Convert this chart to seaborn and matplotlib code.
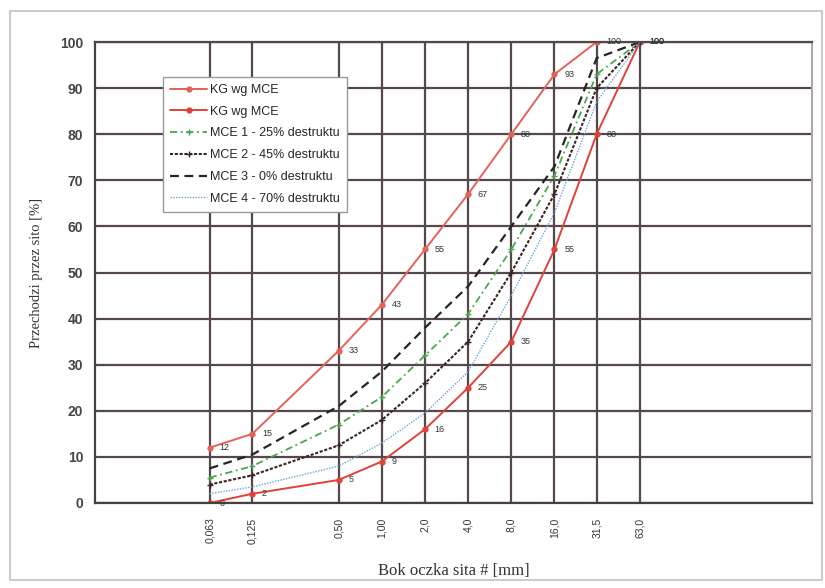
import matplotlib
matplotlib.use("Agg")
import matplotlib.pyplot as plt
import numpy as np
import pandas as pd
import seaborn as sns
from matplotlib.patches import Rectangle

sieves = [0.063, 0.125, 0.5, 1.0, 2.0, 4.0, 8.0, 16.0, 31.5, 63.0]
sieve_labels = ["0,063", "0,125", "0,50", "1,00", "2,0", "4,0", "8,0", "16,0", "31,5", "63,0"]

kg_upper = [12, 15, 33, 43, 55, 67, 80, 93, 100, 100]
kg_lower = [0, 2, 5, 9, 16, 25, 35, 55, 80, 100]
mce1 = [5.5, 8, 17, 23, 32, 41, 55, 71, 93, 100]
mce2 = [4, 6, 12.5, 18, 26, 35, 50, 67, 90, 100]
mce3 = [7.5, 10.5, 21, 28.5, 38, 47, 60, 73, 96.5, 100]
mce4 = [2, 3.5, 8, 13, 19.5, 28.5, 45, 63, 87, 100]

series = [
    ("KG wg MCE", kg_upper, dict(color="#e3625a", lw=1.4, marker="o", markersize=3.5, ls="-")),
    ("KG wg MCE ", kg_lower, dict(color="#e0423a", lw=1.4, marker="o", markersize=3.5, ls="-")),
    ("MCE 1 - 25% destruktu", mce1, dict(color="#4aa64e", lw=1.3, marker="+", markersize=4, ls=(0, (4, 2, 1, 2)))),
    ("MCE 2 - 45% destruktu", mce2, dict(color="#3b2424", lw=1.5, marker="+", markersize=5, ls=(0, (1.5, 0.8)))),
    ("MCE 3 - 0% destruktu", mce3, dict(color="#252525", lw=1.6, ls=(0, (4, 2.5)))),
    ("MCE 4 - 70% destruktu", mce4, dict(color="#6fa3dc", lw=1.0, ls=(0, (1, 1)))),
]

sns.set_style("white")
plt.rcParams["font.family"] = ["Liberation Sans", "DejaVu Sans"]

fig = plt.figure(figsize=(8.25, 5.88), dpi=100)
ax = fig.add_axes([95 / 825, 1 - 503 / 588, 717 / 825, 461 / 588])

for name, vals, kw in series:
    df = pd.DataFrame({"sito": sieves, "przechodzi": vals})
    sns.lineplot(data=df, x="sito", y="przechodzi", ax=ax, label=name,
                 markeredgewidth=1.0, markeredgecolor=kw["color"], **kw)

# data labels on the envelope curves
for vals in (kg_upper, kg_lower):
    for x, y in zip(sieves, vals):
        ax.annotate(str(y), (x, y), xytext=(7, 0), textcoords="offset points",
                    fontsize=6.5, va="center", ha="left", color="#333333")

ax.set_xscale("log")
ax.set_xlim(0.01, 1000)
ax.set_ylim(0, 100)
ax.set_xticks(sieves)
ax.set_xticklabels(sieve_labels, rotation=90, fontsize=7.5, color="#333333")
ax.xaxis.set_minor_locator(matplotlib.ticker.NullLocator())
ax.set_yticks(np.arange(0, 101, 10))
ax.tick_params(axis="y", labelsize=10, colors="#333333", length=5, width=1.2)
ax.tick_params(axis="x", length=7, width=1.6, color="#54484a")
for lab in ax.get_yticklabels():
    lab.set_fontweight("bold")
    lab.set_color("#444444")

ax.grid(True, which="major", color="#54484a", lw=1.6)
ax.set_axisbelow(True)
for side in ("left", "bottom"):
    ax.spines[side].set_color("#4a4040")
    ax.spines[side].set_linewidth(1.6)
ax.spines["top"].set_color("#54484a")
ax.spines["top"].set_linewidth(1.6)
ax.spines["right"].set_color("#b0a8a8")
ax.spines["right"].set_linewidth(1.5)

ax.set_xlabel("Bok oczka sita # [mm]", family=["Liberation Serif"], fontsize=12,
              color="#333333", labelpad=14)
ax.set_ylabel("Przechodzi przez sito [%]", family=["Liberation Serif"], fontsize=10.5,
              color="#333333", labelpad=12)

leg = ax.legend(loc="upper left", bbox_to_anchor=(0.095, 0.924), borderaxespad=0,
                fontsize=9, frameon=True, fancybox=False, edgecolor="#999999",
                framealpha=1, handlelength=3, handletextpad=0.2, labelspacing=0.78,
                borderpad=0.55)
leg.get_frame().set_linewidth(1.0)

fig.patches.append(Rectangle((10 / 825, 1 - 580 / 588), 812 / 825, 569 / 588,
                             transform=fig.transFigure, fill=False,
                             edgecolor="#c8c0c0", lw=1.2))

fig.savefig("out.png", dpi=100)
